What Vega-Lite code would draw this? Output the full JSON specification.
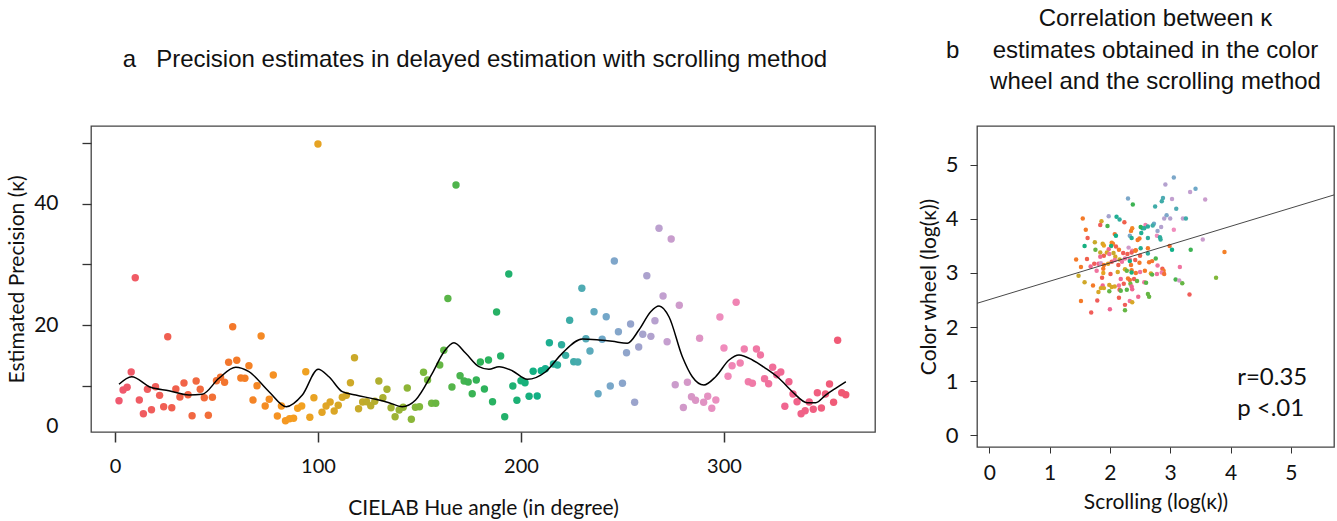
{
  "$schema": "https://vega.github.io/schema/vega-lite/v6.json",
  "background": "white",
  "padding": {"left": 5, "top": 6, "right": 0, "bottom": 0},
  "spacing": 41,
  "config": {
    "view": {"stroke": "#444", "strokeWidth": 1.3},
    "axis": {"labelFont": "Lato", "titleFont": "Lato", "labelColor": "#111", "titleColor": "#111", "tickColor": "#333", "domain": false, "grid": false, "titleFontWeight": "normal"},
    "title": {"font": "Liberation Sans", "fontWeight": "normal", "color": "#111"}
  },
  "hconcat": [
    {
      "width": 784,
      "height": 306,
      "title": {"text": "a\u00a0\u00a0\u00a0Precision estimates in delayed estimation with scrolling method", "fontSize": 24, "frame": "group", "anchor": "middle", "dx": -8, "offset": 54},
      "layer": [
        {
          "data": {"name": "scroll"},
          "mark": {"type": "circle", "size": 55, "opacity": 1},
          "encoding": {
            "x": {"field": "hue", "type": "quantitative", "scale": {"domain": [-11.8, 374.4], "nice": false, "zero": false},
              "axis": {"title": "CIELAB Hue angle (in degree)", "values": [0, 100, 200, 300], "format": "d", "tickSize": 10, "tickWidth": 1.5, "labelFontSize": 20, "labelPadding": 14, "titleFontSize": 21, "titlePadding": 21, "labelFlush": false}},
            "y": {"field": "kappa", "type": "quantitative", "scale": {"domain": [2.39, 52.8], "nice": false, "zero": false},
              "axis": {"title": "Estimated Precision (κ)", "values": [3.3, 10, 20, 30, 40, 50], "labelExpr": "datum.value < 5 ? '0' : ((datum.value == 20 || datum.value == 40) ? datum.label : '')", "tickSize": 9, "tickWidth": 1.3, "labelPadding": 24, "labelFontSize": 21, "titleFontSize": 21, "titlePadding": 6, "tickOpacity": {"condition": {"test": "datum.value < 5", "value": 0}, "value": 1}}},
            "color": {"field": "hue", "type": "quantitative", "legend": null,
              "scale": {"domain": [0, 30, 60, 90, 120, 150, 180, 210, 240, 270, 300, 330, 360], "range": ["#f05872", "#f0604c", "#f47a28", "#f5a020", "#c8aa2a", "#80b83a", "#2fb258", "#10b088", "#6ea8c8", "#c2a0d0", "#f08cbc", "#f06690", "#f05872"], "interpolate": "rgb"}}
          }
        },
        {
          "data": {"name": "smooth"},
          "mark": {"type": "line", "color": "black", "strokeWidth": 1.5, "interpolate": "monotone"},
          "encoding": {"x": {"field": "hue", "type": "quantitative"}, "y": {"field": "kappa", "type": "quantitative"}}
        }
      ]
    },
    {
      "width": 357,
      "height": 321,
      "title": {"text": ["Correlation between κ", "b\u00a0\u00a0\u00a0\u00a0\u00a0estimates obtained in the color\u00a0\u00a0\u00a0\u00a0\u00a0\u00a0\u00a0\u200b", "wheel and the scrolling method"], "fontSize": 24, "lineHeight": 31.5, "frame": "group", "anchor": "middle", "dx": 0, "offset": 32},
      "layer": [
        {
          "data": {"name": "corr"},
          "mark": {"type": "circle", "size": 20, "opacity": 1},
          "encoding": {
            "x": {"field": "s", "type": "quantitative", "scale": {"domain": [-0.204, 5.716], "nice": false, "zero": false},
              "axis": {"title": "Scrolling (log(κ))", "values": [0, 1, 2, 3, 4, 5], "format": "d", "tickSize": 6, "labelFontSize": 21, "labelPadding": 9, "titleFontSize": 21, "titlePadding": 8, "labelFlush": false}},
            "y": {"field": "c", "type": "quantitative", "scale": {"domain": [-0.222, 5.722], "nice": false, "zero": false},
              "axis": {"title": "Color wheel (log(κ))", "values": [0, 1, 2, 3, 4, 5], "format": "d", "tickSize": 7, "labelPadding": 12, "labelFontSize": 22, "titleFontSize": 21, "titlePadding": 6}},
            "color": {"field": "hue", "type": "quantitative", "legend": null,
              "scale": {"domain": [0, 30, 60, 90, 120, 150, 180, 210, 240, 270, 300, 330, 360], "range": ["#f05872", "#f0604c", "#f47a28", "#f5a020", "#c8aa2a", "#80b83a", "#2fb258", "#10b088", "#6ea8c8", "#c2a0d0", "#f08cbc", "#f06690", "#f05872"], "interpolate": "rgb"}}
          }
        },
        {
          "data": {"name": "fit"},
          "mark": {"type": "line", "color": "#333", "strokeWidth": 0.9, "clip": true},
          "encoding": {"x": {"field": "s", "type": "quantitative"}, "y": {"field": "c", "type": "quantitative"}}
        },
        {
          "data": {"values": [{}]},
          "mark": {"type": "text", "text": ["r=0.35", "p <.01"], "align": "left", "baseline": "middle", "lineHeight": 31, "font": "Lato", "fontSize": 24, "color": "#111"},
          "encoding": {"x": {"datum": 4.11}, "y": {"datum": 1.056}}
        }
      ]
    }
  ],
  "datasets": {
    "scroll": [
      {"hue": 2, "kappa": 7.55}, {"hue": 4, "kappa": 9.31}, {"hue": 6, "kappa": 9.75}, {"hue": 8, "kappa": 12.27}, {"hue": 10, "kappa": 27.81},
      {"hue": 12, "kappa": 7.66}, {"hue": 14, "kappa": 5.40}, {"hue": 16, "kappa": 9.42}, {"hue": 18, "kappa": 6.06}, {"hue": 20, "kappa": 9.85},
      {"hue": 22, "kappa": 8.43}, {"hue": 24, "kappa": 6.56}, {"hue": 26, "kappa": 18.09}, {"hue": 28, "kappa": 6.39}, {"hue": 30, "kappa": 9.47},
      {"hue": 32, "kappa": 8.15}, {"hue": 34, "kappa": 10.46}, {"hue": 36, "kappa": 8.53}, {"hue": 38, "kappa": 5.07}, {"hue": 40, "kappa": 10.79},
      {"hue": 42, "kappa": 9.42}, {"hue": 44, "kappa": 8.04}, {"hue": 46, "kappa": 5.14}, {"hue": 48, "kappa": 8.11}, {"hue": 50, "kappa": 10.84},
      {"hue": 52, "kappa": 11.40}, {"hue": 54, "kappa": 10.58}, {"hue": 56, "kappa": 13.87}, {"hue": 58, "kappa": 19.74}, {"hue": 60, "kappa": 14.20},
      {"hue": 62, "kappa": 11.29}, {"hue": 64, "kappa": 11.24}, {"hue": 66, "kappa": 13.31}, {"hue": 68, "kappa": 7.66}, {"hue": 70, "kappa": 10.02},
      {"hue": 72, "kappa": 18.20}, {"hue": 74, "kappa": 6.67}, {"hue": 76, "kappa": 7.78}, {"hue": 78, "kappa": 11.78}, {"hue": 80, "kappa": 5.02},
      {"hue": 82, "kappa": 6.67}, {"hue": 84, "kappa": 4.25}, {"hue": 86, "kappa": 4.58}, {"hue": 88, "kappa": 4.65}, {"hue": 90, "kappa": 6.29},
      {"hue": 92, "kappa": 6.67}, {"hue": 94, "kappa": 12.32}, {"hue": 96, "kappa": 4.81}, {"hue": 98, "kappa": 8.04}, {"hue": 100, "kappa": 49.84},
      {"hue": 102, "kappa": 5.63}, {"hue": 104, "kappa": 6.67}, {"hue": 106, "kappa": 7.33}, {"hue": 108, "kappa": 5.85}, {"hue": 110, "kappa": 6.79},
      {"hue": 112, "kappa": 8.11}, {"hue": 114, "kappa": 8.43}, {"hue": 116, "kappa": 10.51}, {"hue": 118, "kappa": 14.63}, {"hue": 120, "kappa": 6.23},
      {"hue": 122, "kappa": 7.33}, {"hue": 124, "kappa": 7.38}, {"hue": 126, "kappa": 6.72}, {"hue": 128, "kappa": 7.45}, {"hue": 130, "kappa": 10.79},
      {"hue": 132, "kappa": 8.04}, {"hue": 134, "kappa": 9.42}, {"hue": 136, "kappa": 6.39}, {"hue": 138, "kappa": 4.91}, {"hue": 140, "kappa": 6.01},
      {"hue": 142, "kappa": 6.46}, {"hue": 144, "kappa": 9.64}, {"hue": 146, "kappa": 4.48}, {"hue": 148, "kappa": 6.46}, {"hue": 150, "kappa": 6.56},
      {"hue": 152, "kappa": 12.22}, {"hue": 154, "kappa": 10.96}, {"hue": 156, "kappa": 7.12}, {"hue": 158, "kappa": 7.12}, {"hue": 160, "kappa": 13.43},
      {"hue": 162, "kappa": 15.85}, {"hue": 164, "kappa": 24.38}, {"hue": 166, "kappa": 9.80}, {"hue": 168, "kappa": 43.08}, {"hue": 170, "kappa": 11.66},
      {"hue": 172, "kappa": 10.79}, {"hue": 174, "kappa": 10.63}, {"hue": 176, "kappa": 8.70}, {"hue": 178, "kappa": 10.96}, {"hue": 180, "kappa": 13.92},
      {"hue": 182, "kappa": 9.47}, {"hue": 184, "kappa": 14.25}, {"hue": 186, "kappa": 7.38}, {"hue": 188, "kappa": 22.16}, {"hue": 190, "kappa": 14.91},
      {"hue": 192, "kappa": 4.91}, {"hue": 194, "kappa": 28.42}, {"hue": 196, "kappa": 9.97}, {"hue": 198, "kappa": 7.61}, {"hue": 200, "kappa": 10.84},
      {"hue": 202, "kappa": 10.51}, {"hue": 204, "kappa": 8.27}, {"hue": 206, "kappa": 12.39}, {"hue": 208, "kappa": 8.32}, {"hue": 210, "kappa": 12.49},
      {"hue": 212, "kappa": 12.82}, {"hue": 214, "kappa": 17.10}, {"hue": 216, "kappa": 13.59}, {"hue": 218, "kappa": 13.43}, {"hue": 220, "kappa": 16.77},
      {"hue": 222, "kappa": 15.02}, {"hue": 224, "kappa": 20.79}, {"hue": 226, "kappa": 13.97}, {"hue": 228, "kappa": 13.92}, {"hue": 230, "kappa": 26.06},
      {"hue": 232, "kappa": 17.76}, {"hue": 234, "kappa": 15.73}, {"hue": 236, "kappa": 22.21}, {"hue": 238, "kappa": 8.70}, {"hue": 240, "kappa": 17.66},
      {"hue": 242, "kappa": 21.38}, {"hue": 244, "kappa": 9.97}, {"hue": 246, "kappa": 30.56}, {"hue": 248, "kappa": 18.91}, {"hue": 250, "kappa": 10.41},
      {"hue": 252, "kappa": 15.45}, {"hue": 254, "kappa": 20.18}, {"hue": 256, "kappa": 7.28}, {"hue": 258, "kappa": 16.39}, {"hue": 260, "kappa": 18.48},
      {"hue": 262, "kappa": 28.14}, {"hue": 264, "kappa": 18.15}, {"hue": 266, "kappa": 20.72}, {"hue": 268, "kappa": 35.95}, {"hue": 270, "kappa": 24.79},
      {"hue": 272, "kappa": 17.27}, {"hue": 274, "kappa": 34.18}, {"hue": 276, "kappa": 10.18}, {"hue": 278, "kappa": 23.26}, {"hue": 280, "kappa": 6.43},
      {"hue": 282, "kappa": 10.58}, {"hue": 284, "kappa": 8.20}, {"hue": 286, "kappa": 7.61}, {"hue": 288, "kappa": 17.83}, {"hue": 290, "kappa": 7.28},
      {"hue": 292, "kappa": 8.27}, {"hue": 294, "kappa": 6.29}, {"hue": 296, "kappa": 7.66}, {"hue": 298, "kappa": 21.33}, {"hue": 300, "kappa": 16.23},
      {"hue": 302, "kappa": 11.57}, {"hue": 304, "kappa": 13.31}, {"hue": 306, "kappa": 23.76}, {"hue": 308, "kappa": 13.76}, {"hue": 310, "kappa": 16.06},
      {"hue": 312, "kappa": 10.68}, {"hue": 314, "kappa": 10.41}, {"hue": 316, "kappa": 16.06}, {"hue": 318, "kappa": 15.07}, {"hue": 320, "kappa": 11.17},
      {"hue": 322, "kappa": 10.35}, {"hue": 324, "kappa": 13.05}, {"hue": 326, "kappa": 11.83}, {"hue": 328, "kappa": 12.27}, {"hue": 330, "kappa": 6.62},
      {"hue": 332, "kappa": 10.68}, {"hue": 334, "kappa": 8.65}, {"hue": 336, "kappa": 7.38}, {"hue": 338, "kappa": 5.40}, {"hue": 340, "kappa": 5.90},
      {"hue": 342, "kappa": 7.33}, {"hue": 344, "kappa": 6.13}, {"hue": 346, "kappa": 8.86}, {"hue": 348, "kappa": 6.34}, {"hue": 350, "kappa": 8.65},
      {"hue": 352, "kappa": 10.30}, {"hue": 354, "kappa": 7.28}, {"hue": 356, "kappa": 17.50}, {"hue": 358, "kappa": 8.86}, {"hue": 360, "kappa": 8.53}
    ],
    "smooth": [
      {"hue": 2.0, "kappa": 10.25}, {"hue": 8.2, "kappa": 11.5}, {"hue": 17.6, "kappa": 9.75}, {"hue": 26.6, "kappa": 9.19}, {"hue": 36.5, "kappa": 8.48},
      {"hue": 43.0, "kappa": 8.6}, {"hue": 51.2, "kappa": 11.24}, {"hue": 59.5, "kappa": 13.05}, {"hue": 66.0, "kappa": 12.32}, {"hue": 75.9, "kappa": 9.03},
      {"hue": 84.4, "kappa": 6.56}, {"hue": 92.3, "kappa": 8.48}, {"hue": 100.1, "kappa": 12.72}, {"hue": 105.4, "kappa": 11.5}, {"hue": 112.0, "kappa": 9.03},
      {"hue": 118.6, "kappa": 8.48}, {"hue": 128.4, "kappa": 7.78}, {"hue": 135.0, "kappa": 7.22}, {"hue": 141.5, "kappa": 6.56}, {"hue": 148.1, "kappa": 7.66},
      {"hue": 156.3, "kappa": 12.06}, {"hue": 162.1, "kappa": 15.62}, {"hue": 167.0, "kappa": 17.1}, {"hue": 172.8, "kappa": 15.35}, {"hue": 179.3, "kappa": 13.15},
      {"hue": 184.2, "kappa": 12.72}, {"hue": 189.2, "kappa": 13.15}, {"hue": 195.7, "kappa": 12.49}, {"hue": 203.1, "kappa": 11.07}, {"hue": 212.2, "kappa": 12.32},
      {"hue": 220.3, "kappa": 15.35}, {"hue": 230.2, "kappa": 17.71}, {"hue": 238.4, "kappa": 17.55}, {"hue": 245.0, "kappa": 17.33}, {"hue": 252.4, "kappa": 17.0},
      {"hue": 258.1, "kappa": 19.19}, {"hue": 263.9, "kappa": 22.21}, {"hue": 268.0, "kappa": 23.15}, {"hue": 272.9, "kappa": 21.38}, {"hue": 279.5, "kappa": 14.79},
      {"hue": 284.4, "kappa": 11.5}, {"hue": 290.1, "kappa": 10.13}, {"hue": 295.9, "kappa": 11.5}, {"hue": 302.5, "kappa": 14.25}, {"hue": 307.4, "kappa": 15.07},
      {"hue": 314.0, "kappa": 14.25}, {"hue": 320.5, "kappa": 12.88}, {"hue": 327.1, "kappa": 11.24}, {"hue": 333.7, "kappa": 9.03}, {"hue": 341.0, "kappa": 7.22},
      {"hue": 345.2, "kappa": 7.22}, {"hue": 350.1, "kappa": 8.48}, {"hue": 355.0, "kappa": 9.59}, {"hue": 360.0, "kappa": 10.68}
    ],
    "corr": [
      {"s": 3.06, "c": 4.77, "hue": 245}, {"s": 2.92, "c": 4.64, "hue": 265}, {"s": 3.42, "c": 4.56, "hue": 240}, {"s": 3.33, "c": 4.50, "hue": 270},
      {"s": 2.30, "c": 4.38, "hue": 245}, {"s": 2.38, "c": 4.27, "hue": 175}, {"s": 2.88, "c": 4.39, "hue": 230}, {"s": 2.86, "c": 4.33, "hue": 225},
      {"s": 3.03, "c": 4.37, "hue": 270}, {"s": 3.58, "c": 4.36, "hue": 275}, {"s": 2.75, "c": 4.23, "hue": 225}, {"s": 3.10, "c": 4.19, "hue": 230},
      {"s": 1.98, "c": 4.05, "hue": 260}, {"s": 2.11, "c": 4.04, "hue": 215}, {"s": 2.16, "c": 3.99, "hue": 220}, {"s": 1.55, "c": 4.01, "hue": 60},
      {"s": 1.86, "c": 3.96, "hue": 110}, {"s": 2.24, "c": 3.94, "hue": 30}, {"s": 2.94, "c": 4.07, "hue": 245}, {"s": 2.90, "c": 4.01, "hue": 265},
      {"s": 3.00, "c": 4.01, "hue": 265}, {"s": 3.21, "c": 4.01, "hue": 270}, {"s": 3.26, "c": 4.01, "hue": 225}, {"s": 1.84, "c": 3.89, "hue": 20},
      {"s": 1.96, "c": 3.87, "hue": 170}, {"s": 2.59, "c": 3.89, "hue": 310}, {"s": 2.63, "c": 3.86, "hue": 220}, {"s": 2.73, "c": 3.91, "hue": 240},
      {"s": 2.71, "c": 3.88, "hue": 225}, {"s": 2.54, "c": 3.83, "hue": 215}, {"s": 2.51, "c": 3.85, "hue": 180}, {"s": 2.57, "c": 3.83, "hue": 220},
      {"s": 1.60, "c": 3.80, "hue": 60}, {"s": 2.37, "c": 3.83, "hue": 70}, {"s": 2.35, "c": 3.78, "hue": 65}, {"s": 2.85, "c": 3.85, "hue": 265},
      {"s": 2.79, "c": 3.78, "hue": 255}, {"s": 3.06, "c": 3.80, "hue": 300}, {"s": 2.08, "c": 3.72, "hue": 50}, {"s": 2.10, "c": 3.69, "hue": 210},
      {"s": 2.33, "c": 3.69, "hue": 245}, {"s": 2.36, "c": 3.65, "hue": 215}, {"s": 2.52, "c": 3.74, "hue": 215}, {"s": 2.63, "c": 3.65, "hue": 220},
      {"s": 2.78, "c": 3.69, "hue": 300}, {"s": 2.83, "c": 3.66, "hue": 220}, {"s": 2.84, "c": 3.62, "hue": 220}, {"s": 2.49, "c": 3.64, "hue": 60},
      {"s": 2.46, "c": 3.61, "hue": 60}, {"s": 1.63, "c": 3.65, "hue": 25}, {"s": 3.54, "c": 3.62, "hue": 275}, {"s": 1.75, "c": 3.57, "hue": 120},
      {"s": 1.88, "c": 3.54, "hue": 110}, {"s": 1.90, "c": 3.51, "hue": 100}, {"s": 2.03, "c": 3.56, "hue": 70}, {"s": 2.05, "c": 3.54, "hue": 65},
      {"s": 2.02, "c": 3.50, "hue": 200}, {"s": 1.58, "c": 3.50, "hue": 205}, {"s": 1.98, "c": 3.44, "hue": 330}, {"s": 2.10, "c": 3.49, "hue": 30},
      {"s": 2.15, "c": 3.43, "hue": 60}, {"s": 2.31, "c": 3.47, "hue": 280}, {"s": 2.37, "c": 3.41, "hue": 310}, {"s": 2.43, "c": 3.42, "hue": 55},
      {"s": 2.51, "c": 3.46, "hue": 215}, {"s": 2.63, "c": 3.46, "hue": 60}, {"s": 2.99, "c": 3.50, "hue": 50}, {"s": 3.03, "c": 3.43, "hue": 210},
      {"s": 3.34, "c": 3.43, "hue": 175}, {"s": 3.90, "c": 3.39, "hue": 65}, {"s": 1.76, "c": 3.43, "hue": 160}, {"s": 1.84, "c": 3.38, "hue": 120},
      {"s": 1.95, "c": 3.38, "hue": 110}, {"s": 1.90, "c": 3.32, "hue": 30}, {"s": 1.84, "c": 3.30, "hue": 330}, {"s": 1.99, "c": 3.35, "hue": 320},
      {"s": 2.06, "c": 3.37, "hue": 120}, {"s": 2.09, "c": 3.30, "hue": 110}, {"s": 2.22, "c": 3.37, "hue": 20}, {"s": 2.29, "c": 3.35, "hue": 25},
      {"s": 2.36, "c": 3.38, "hue": 20}, {"s": 2.42, "c": 3.41, "hue": 60}, {"s": 2.50, "c": 3.32, "hue": 30}, {"s": 2.63, "c": 3.36, "hue": 220},
      {"s": 1.62, "c": 3.26, "hue": 30}, {"s": 1.44, "c": 3.25, "hue": 60}, {"s": 2.16, "c": 3.25, "hue": 120}, {"s": 2.25, "c": 3.27, "hue": 320},
      {"s": 2.33, "c": 3.25, "hue": 320}, {"s": 2.42, "c": 3.24, "hue": 25}, {"s": 2.76, "c": 3.27, "hue": 170}, {"s": 2.65, "c": 3.20, "hue": 60},
      {"s": 2.70, "c": 3.22, "hue": 55}, {"s": 1.52, "c": 3.11, "hue": 60}, {"s": 1.68, "c": 3.12, "hue": 330}, {"s": 1.74, "c": 3.17, "hue": 20},
      {"s": 1.81, "c": 3.17, "hue": 340}, {"s": 1.85, "c": 3.18, "hue": 280}, {"s": 1.90, "c": 3.15, "hue": 60}, {"s": 1.97, "c": 3.17, "hue": 100},
      {"s": 2.03, "c": 3.21, "hue": 20}, {"s": 2.08, "c": 3.24, "hue": 320}, {"s": 2.14, "c": 3.15, "hue": 30}, {"s": 2.20, "c": 3.21, "hue": 320},
      {"s": 2.33, "c": 3.22, "hue": 210}, {"s": 2.35, "c": 3.15, "hue": 55}, {"s": 2.49, "c": 3.19, "hue": 60}, {"s": 2.79, "c": 3.14, "hue": 320},
      {"s": 2.87, "c": 3.08, "hue": 25}, {"s": 2.89, "c": 3.04, "hue": 60}, {"s": 3.16, "c": 3.11, "hue": 320}, {"s": 1.78, "c": 3.04, "hue": 320},
      {"s": 1.89, "c": 3.08, "hue": 60}, {"s": 1.89, "c": 3.00, "hue": 100}, {"s": 2.01, "c": 2.98, "hue": 25}, {"s": 2.13, "c": 3.02, "hue": 110},
      {"s": 2.25, "c": 3.07, "hue": 110}, {"s": 2.28, "c": 3.04, "hue": 160}, {"s": 2.36, "c": 3.05, "hue": 60}, {"s": 2.36, "c": 3.01, "hue": 200},
      {"s": 2.43, "c": 3.00, "hue": 55}, {"s": 2.50, "c": 3.02, "hue": 320}, {"s": 2.58, "c": 3.04, "hue": 60}, {"s": 2.68, "c": 2.99, "hue": 110},
      {"s": 2.70, "c": 2.97, "hue": 165}, {"s": 2.78, "c": 2.98, "hue": 320}, {"s": 2.86, "c": 3.01, "hue": 310}, {"s": 2.90, "c": 2.98, "hue": 50},
      {"s": 1.48, "c": 2.95, "hue": 120}, {"s": 1.87, "c": 2.91, "hue": 25}, {"s": 2.18, "c": 2.89, "hue": 330}, {"s": 2.30, "c": 2.90, "hue": 60},
      {"s": 2.33, "c": 2.87, "hue": 50}, {"s": 2.40, "c": 2.89, "hue": 20}, {"s": 3.09, "c": 2.88, "hue": 170}, {"s": 3.15, "c": 2.86, "hue": 280},
      {"s": 3.20, "c": 2.81, "hue": 160}, {"s": 3.76, "c": 2.91, "hue": 150}, {"s": 1.58, "c": 2.83, "hue": 115}, {"s": 1.72, "c": 2.77, "hue": 60},
      {"s": 1.88, "c": 2.77, "hue": 330}, {"s": 1.99, "c": 2.78, "hue": 110}, {"s": 2.03, "c": 2.74, "hue": 110}, {"s": 2.08, "c": 2.75, "hue": 110},
      {"s": 2.15, "c": 2.77, "hue": 320}, {"s": 2.23, "c": 2.80, "hue": 25}, {"s": 2.34, "c": 2.80, "hue": 155}, {"s": 2.36, "c": 2.75, "hue": 330},
      {"s": 2.45, "c": 2.85, "hue": 160}, {"s": 2.57, "c": 2.83, "hue": 320}, {"s": 2.60, "c": 2.82, "hue": 165}, {"s": 2.16, "c": 2.69, "hue": 20},
      {"s": 2.18, "c": 2.67, "hue": 165}, {"s": 2.28, "c": 2.69, "hue": 165}, {"s": 2.37, "c": 2.70, "hue": 330}, {"s": 1.81, "c": 2.65, "hue": 110},
      {"s": 1.85, "c": 2.72, "hue": 110}, {"s": 1.90, "c": 2.72, "hue": 110}, {"s": 1.99, "c": 2.66, "hue": 160}, {"s": 2.63, "c": 2.61, "hue": 160},
      {"s": 2.65, "c": 2.56, "hue": 160}, {"s": 3.32, "c": 2.60, "hue": 20}, {"s": 2.15, "c": 2.54, "hue": 25}, {"s": 2.47, "c": 2.56, "hue": 330},
      {"s": 1.52, "c": 2.48, "hue": 60}, {"s": 1.79, "c": 2.49, "hue": 20}, {"s": 2.33, "c": 2.48, "hue": 320}, {"s": 2.37, "c": 2.46, "hue": 110},
      {"s": 2.25, "c": 2.41, "hue": 20}, {"s": 2.00, "c": 2.33, "hue": 330}, {"s": 1.69, "c": 2.27, "hue": 20}, {"s": 2.25, "c": 2.31, "hue": 160}
    ],
    "fit": [
      {"s": -0.2, "c": 2.44}, {"s": 5.72, "c": 4.447}
    ]
  }
}
